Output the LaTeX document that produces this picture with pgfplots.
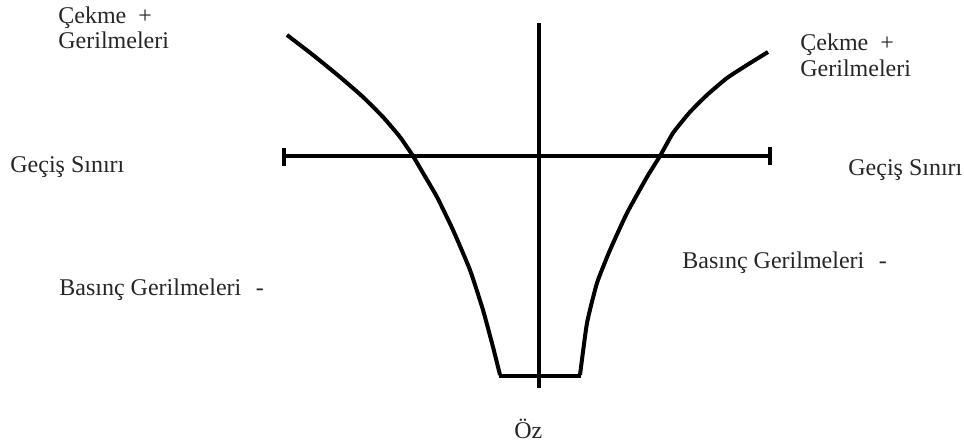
\documentclass[border=0pt]{standalone}
\usepackage{fontspec}
\setmainfont{Liberation Serif}
\usepackage{pgfplots}
\pgfplotsset{compat=1.18}

% positions are read in pixels of the scan (y grows downward)
\pgfplotstableread{
x y
287 35
313 55
340 77
363 97
383 117
400 137
413 156
423 173
437 197
453 230
470 270
483 310
493 347
500 375
}\leftcurve

\pgfplotstableread{
x y
580 375
587 323
597 283
610 250
627 213
647 177
660 156
673 133
690 112
707 95
727 78
747 65
768 52
}\rightcurve

\tikzset{lbl/.style={anchor=base west, inner sep=0pt,
    font=\fontsize{12}{14}\selectfont, text=black!85}}

\begin{document}
\begin{tikzpicture}
\begin{axis}[
    scale only axis, width=482pt, height=222.5pt,
    xmin=0, xmax=964, ymin=0, ymax=445, y dir=reverse,
    axis lines=none, clip=false,
]
\path (rel axis cs:0,0) rectangle (rel axis cs:1,1);

% Geçiş sınırı line with end bars
\addplot[black, line width=1.6pt] coordinates {(284,156) (770,156)};
\addplot[black, line width=1.8pt] coordinates {(284,148) (284,166)};
\addplot[black, line width=1.8pt] coordinates {(770,147) (770,165)};
% centre line
\addplot[black, line width=1.6pt] coordinates {(539,23) (539,388)};

% stress profile
\addplot[black, line width=2pt, smooth, tension=0.3] table[x=x, y=y] {\leftcurve};
\addplot[black, line width=2.2pt] coordinates {(499,376) (581,376)};
\addplot[black, line width=2pt, smooth, tension=0.3] table[x=x, y=y] {\rightcurve};

% labels
\node[lbl] at (axis cs:58,23) {Çekme\hspace{0.5em}+};
\node[lbl] at (axis cs:58,48) {Gerilmeleri};
\node[lbl] at (axis cs:10,172) {Geçiş Sınırı};
\node[lbl] at (axis cs:59,295) {Basınç Gerilmeleri\hspace{0.6em}-};

\node[lbl] at (axis cs:800,50) {Çekme\hspace{0.5em}+};
\node[lbl] at (axis cs:800,76) {Gerilmeleri};
\node[lbl] at (axis cs:848,175) {Geçiş Sınırı};
\node[lbl] at (axis cs:682,268) {Basınç Gerilmeleri\hspace{0.6em}-};

\node[lbl] at (axis cs:514,438) {Öz};
\end{axis}
\end{tikzpicture}
\end{document}
